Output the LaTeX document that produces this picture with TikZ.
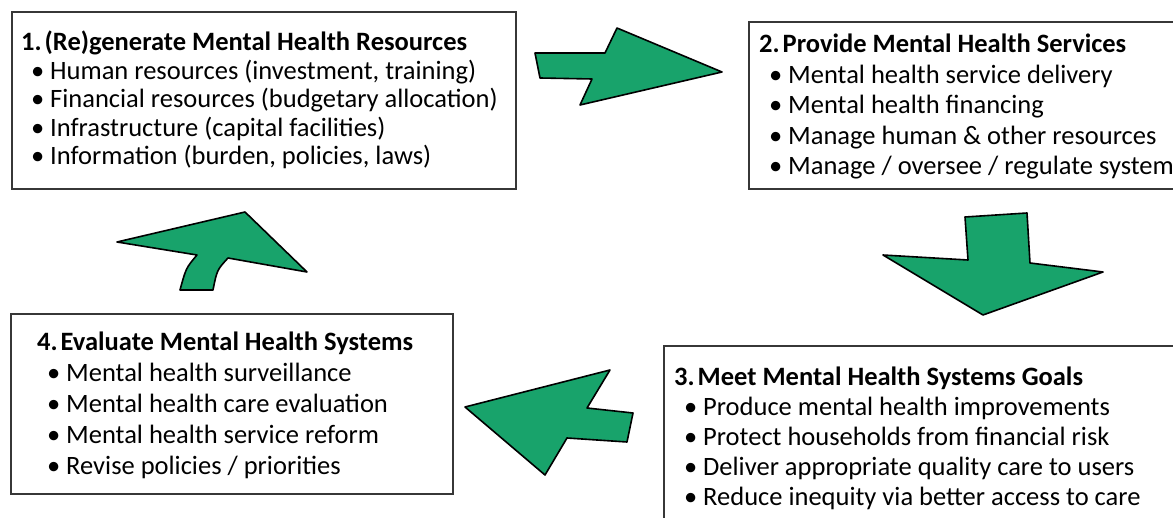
\documentclass[tikz,border=0pt]{standalone}
\usepackage{fontspec}
\setmainfont{Carlito}
\definecolor{arrowgreen}{RGB}{24,163,107}
\definecolor{boxline}{RGB}{55,55,55}
\newcommand{\bul}{\hspace*{10pt}\makebox[19pt][l]{\textbullet}}
\newcommand{\numsep}{\hspace{3pt}}
\tikzset{
  panel/.style={draw=boxline, line width=1.8pt, fill=white, rectangle, inner sep=0pt, anchor=north west},
  paneltext/.style={anchor=north west, align=left, inner sep=0pt},
  blockarrow/.style={fill=arrowgreen, draw=black, line width=1.6pt, line join=round}
}
\begin{document}
\begin{tikzpicture}[x=1pt,y=-1pt]
\useasboundingbox (0,0) rectangle (1173,518);
\begin{scope}
\clip (0,0) rectangle (1173,518);
\fill[white] (0,0) rectangle (1173,518);
% boxes
\node[panel, minimum width=504pt, minimum height=177pt] (b1) at (11,11) {};
\node[panel, minimum width=440pt, minimum height=167pt] (b2) at (748,21) {};
\node[panel, minimum width=520pt, minimum height=200pt] (b3) at (663,345) {};
\node[panel, minimum width=442pt, minimum height=180pt] (b4) at (10,313) {};
% texts
\node[paneltext, font=\fontsize{26.5}{28.5}\selectfont] (t1) at (21,31) {\textbf{1.\numsep(Re)generate Mental Health Resources}\\
\bul Human resources (investment, training)\\
\bul Financial resources (budgetary allocation)\\
\bul Infrastructure (capital facilities)\\
\bul Information (burden, policies, laws)};
\node[paneltext, font=\fontsize{26.5}{30.5}\selectfont] (t2) at (759,34) {\textbf{2.\numsep Provide Mental Health Services}\\
\bul Mental health service delivery\\
\bul Mental health financing\\
\bul Manage human \& other resources\\
\bul Manage / oversee / regulate system};
\node[paneltext, font=\fontsize{26.5}{30}\selectfont] (t3) at (674,367) {\textbf{3.\numsep Meet Mental Health Systems Goals}\\
\bul Produce mental health improvements\\
\bul Protect households from financial risk\\
\bul Deliver appropriate quality care to users\\
\bul Reduce inequity via better access to care};
\node[paneltext, font=\fontsize{26.5}{31}\selectfont] (t4) at (37,332) {\textbf{4.\numsep Evaluate Mental Health Systems}\\
\bul Mental health surveillance\\
\bul Mental health care evaluation\\
\bul Mental health service reform\\
\bul Revise policies / priorities};
% arrow 1 -> 2
\draw[blockarrow] (535,53) -- (605,53) -- (617,28) -- (722,72) -- (580,105) -- (592,79) -- (540,78) -- cycle;
% arrow 2 -> 3
\draw[blockarrow] (965,217) -- (1027,213) -- (1030,263) -- (1103,272) -- (983,315) -- (883,255) -- (968,260) -- cycle;
% arrow 3 -> 4
\draw[blockarrow] (465,407) -- (610,370) -- (587,408) -- (633,413) -- (627,442) -- (567,438) -- (545,475) -- cycle;
% arrow 4 -> 1
\draw[blockarrow] (117,242) -- (245,212) -- (307,272) -- (228,258) .. controls (217,270) .. (213,290) -- (180,290) .. controls (186,268) .. (197,255) -- cycle;
\end{scope}
\end{tikzpicture}
\end{document}
